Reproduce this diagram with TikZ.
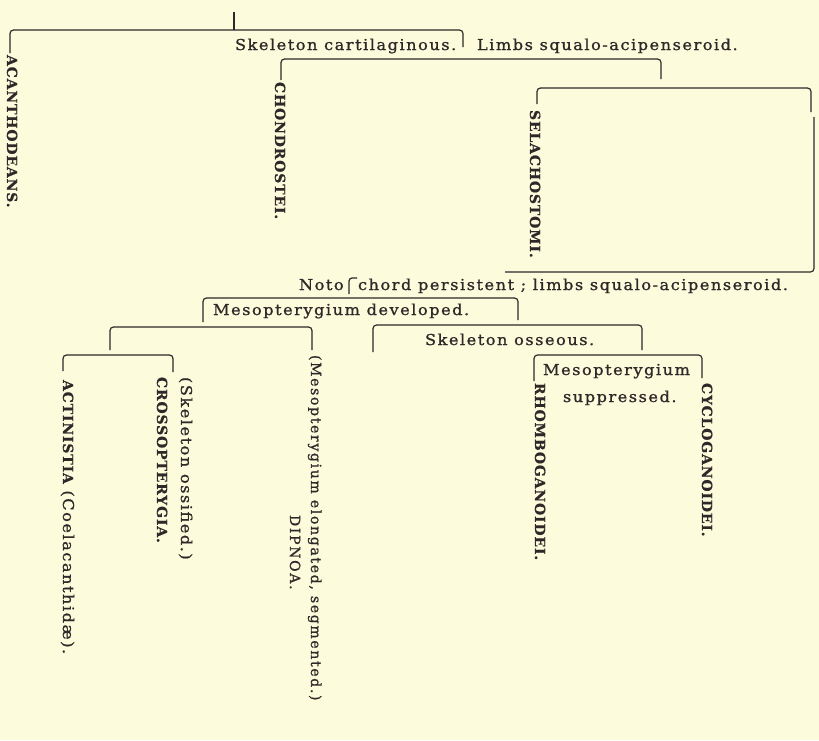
\documentclass[tikz,border=0pt]{standalone}
\usepackage{fontspec}
\newfontfamily\rmtxt{DejaVu Serif}[LetterSpace=10,FakeStretch=1.08,FakeBold=1.0]
\newfontfamily\rmnar{DejaVu Serif}[LetterSpace=12,FakeBold=1.0]
\newfontfamily\bcaps{DejaVu Serif Bold}[LetterSpace=6,FakeBold=0.5]
\definecolor{paper}{HTML}{FCFBDC}
\definecolor{inkc}{HTML}{2F2828}
\begin{document}
\begin{tikzpicture}[x=1pt,y=-1pt,
  ink/.style={draw=inkc,line width=1.2pt,rounded corners=3.5pt},
  txt/.style={inner sep=0pt,outer sep=0pt,text=inkc,font=\rmtxt\fontsize{15}{17}\selectfont,anchor=base west},
  ntxt/.style={txt,font=\rmnar\fontsize{14}{16}\selectfont},
  bcap/.style={txt,font=\bcaps\fontsize{14}{16}\selectfont},
  vtxt/.style={txt,rotate=-90},
  vntxt/.style={ntxt,rotate=-90},
  vcap/.style={bcap,rotate=-90}]
\fill[paper] (0,0) rectangle (819,740);
\useasboundingbox (0,0) rectangle (819,740);
% horizontal texts
\node[txt] (skc) at (235,50) {Skeleton cartilaginous.};
\node[txt] (lsa) at (477,50) {Limbs squalo-acipenseroid.};
\node[txt] (noto) at (299,290) {Noto};
\node[txt] (chord) at (358,290) {chord persistent ; limbs squalo-acipenseroid.};
\node[txt] (mdev) at (213,315) {Mesopterygium developed.};
\node[txt] (sko) at (425,345) {Skeleton osseous.};
\node[txt] (msup1) at (543,375) {Mesopterygium};
\node[txt] (msup2) at (563,402) {suppressed.};
% vertical texts
\node[vcap] (acan) at (7,55) {ACANTHODEANS.};
\node[vcap] (chon) at (275,82) {CHONDROSTEI.};
\node[vcap] (sela) at (530,110) {SELACHOSTOMI.};
\node[vcap] (rhom) at (535,383) {RHOMBOGANOIDEI.};
\node[vcap] (cycl) at (702,383) {CYCLOGANOIDEI.};
\node[vtxt] (acti) at (63,380) {{\bcaps\fontsize{14}{16}\selectfont ACTINISTIA} (Coelacanthidæ).};
\node[vtxt] (sko2) at (181,377) {(Skeleton ossified.)};
\node[vcap] (cros) at (157,377) {CROSSOPTERYGIA.};
\node[vntxt] (melo) at (311,355) {(Mesopterygium elongated, segmented.)};
\node[vntxt] (dipn) at (290,515) {DIPNOA.};
% bracket end points
\coordinate (s0) at (234,12);
\coordinate (s1) at (234,30);
\coordinate (a1) at (10,53);   \coordinate (a2) at (463,30);  \coordinate (a3) at (463,47);
\coordinate (b1) at (281,80);  \coordinate (b2) at (661,59);  \coordinate (b3) at (661,79);
\coordinate (c1) at (537,104); \coordinate (c2) at (811,88);  \coordinate (c3) at (811,112);
\coordinate (d1) at (505,272); \coordinate (d2) at (814,117);
\coordinate (h1) at (349,294); \coordinate (h2) at (357,278);
\coordinate (e1) at (203,322); \coordinate (e2) at (518,298); \coordinate (e3) at (518,320);
\coordinate (f1) at (110,350); \coordinate (f2) at (312,327); \coordinate (f3) at (312,350);
\coordinate (g1) at (373,352); \coordinate (g2) at (642,325); \coordinate (g3) at (642,350);
\coordinate (k1) at (534,381); \coordinate (k2) at (702,355); \coordinate (k3) at (702,378);
\coordinate (m1) at (63,371);  \coordinate (m2) at (173,355); \coordinate (m3) at (173,372);
% brackets
\draw[ink] (s0) -- (s1);
\draw[ink] (a1) |- (a2) -- (a3);
\draw[ink] (b1) |- (b2) -- (b3);
\draw[ink] (c1) |- (c2) -- (c3);
\draw[ink] (d1) -| (d2);
\draw[ink,rounded corners=3pt] (h1) |- (h2);
\draw[ink] (e1) |- (e2) -- (e3);
\draw[ink] (f1) |- (f2) -- (f3);
\draw[ink] (g1) |- (g2) -- (g3);
\draw[ink] (k1) |- (k2) -- (k3);
\draw[ink] (m1) |- (m2) -- (m3);
\end{tikzpicture}
\end{document}
